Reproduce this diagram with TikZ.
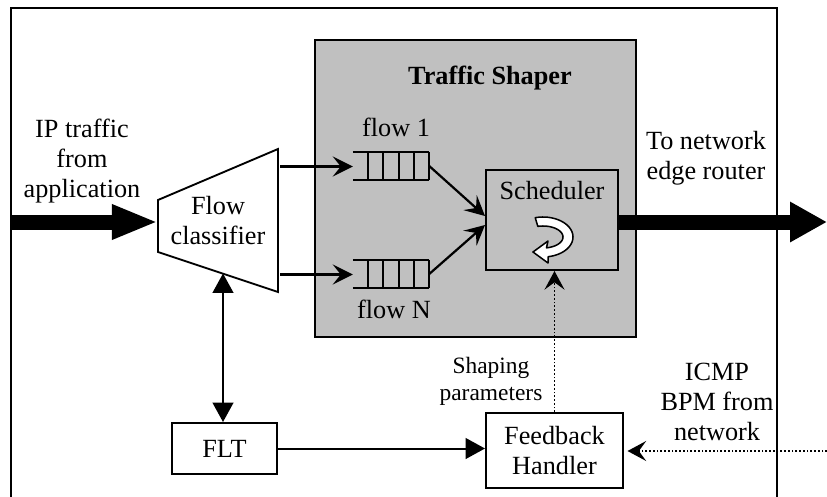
\documentclass[tikz,border=0pt]{standalone}
\usepackage{fontspec}
\setmainfont{Liberation Serif}
\usetikzlibrary{arrows.meta,calc}

\tikzset{
  unitbox/.style={draw, line width=1.7pt, inner sep=0pt},
  lbl/.style={align=center, inner sep=0pt, font=\fontsize{22.4pt}{25.6pt}\selectfont},
  smalllbl/.style={align=center, inner sep=0pt, font=\fontsize{20pt}{23pt}\selectfont},
  thin arrow/.style={line width=1.9pt, -{Stealth[length=0.6cm,width=0.6cm,inset=0.24cm]}},
  tri arrow/.style={line width=1.7pt, -{Triangle[length=0.58cm,width=0.62cm]}},
  dots/.style={line width=1.4pt, dash pattern=on 1.4pt off 1.8pt,
    -{Stealth[length=0.56cm,width=0.6cm,inset=0.22cm]}},
  fat arrow/.style={line width=0.45cm},
  qline/.style={line width=1.7pt},
}

\begin{document}
\begin{tikzpicture}[x=0.03cm, y=-0.03cm]
\useasboundingbox (0,0) rectangle (827,497);

% outer frame (open at the bottom)
\draw[line width=1.7pt] (11,497) -- (11,8) -- (777,8) -- (777,497);

% traffic shaper block
\node[unitbox, fill={rgb,255:red,192;green,192;blue,192}, minimum width=9.63cm, minimum height=8.91cm] (ts) at (475.5,188.5) {};
\node[lbl, font=\fontsize{22.4pt}{25.6pt}\selectfont\bfseries] (tstitle) at (490,78) {Traffic Shaper};

% scheduler
\node[unitbox, fill={rgb,255:red,192;green,192;blue,192}, minimum width=3.96cm, minimum height=3cm] (sch) at (552,220) {};
\node[lbl] (schlbl) at (552,191) {Scheduler};

% round-robin symbol
\filldraw[fill=white, line width=1.3pt, line join=round]
  plot[domain=-105:80, samples=40] ({543+30*cos(\x)},{237+20*sin(\x)})
  -- (548,263) -- (533,252) -- (548,241)
  -- plot[domain=80:-105, samples=40] ({543+20*cos(\x)},{237+11*sin(\x)}) -- cycle;

% flow classifier
\coordinate (c1) at (158,200);
\coordinate (c2) at (278,149);
\coordinate (c3) at (278,292);
\coordinate (c4) at (158,252);
\filldraw[fill=white, line width=1.6pt] (c1) -- (c2) -- (c3) -- (c4) -- cycle;
\node[lbl] (cls) at (218,221) {Flow\\classifier};
\coordinate (clsbot) at (223,273.5);

% queues
\node[minimum width=2.28cm, minimum height=0.84cm, inner sep=0pt] (q1) at (391,166) {};
\node[minimum width=2.28cm, minimum height=0.84cm, inner sep=0pt] (qN) at (391,274) {};
\foreach \q in {q1,qN}{
  \draw[qline] (\q.north west) -- (\q.north east);
  \draw[qline] (\q.south west) -- (\q.south east);
  \foreach \k in {1,...,5}
    \draw[qline] ($(\q.north west)!\k/5!(\q.north east)$) -- ($(\q.south west)!\k/5!(\q.south east)$);
}
\node[lbl] (f1) at (396,127) {flow 1};
\node[lbl] (fN) at (394,309) {flow N};

% classifier to queues
\draw[thin arrow] ($(q1.west -| c2)+(2,0.5)$) -- ($(q1.west)+(0,0.5)$);
\draw[thin arrow] ($(qN.west -| c2)+(2,0.5)$) -- ($(qN.west)+(0,0.5)$);

% queues to scheduler
\draw[thin arrow] (q1.east) -- ($(sch.west)+(0,-4)$);
\draw[thin arrow] (qN.east) -- ($(sch.west)+(0,5)$);

% FLT and feedback handler
\node[unitbox, minimum width=3.15cm, minimum height=1.53cm] (flt) at (224.5,448.5) {};
\node[lbl] at (flt.center) {FLT};
\node[unitbox, minimum width=4.11cm, minimum height=2.25cm] (fb) at (554.5,450.5) {};
\node[lbl] at (fb.center) {Feedback\\Handler};

\draw[line width=1.7pt, {Triangle[length=0.58cm,width=0.62cm]}-{Triangle[length=0.58cm,width=0.62cm]}]
  (clsbot) -- (clsbot |- flt.north);
\draw[tri arrow] (flt.east) -- (flt.east -| fb.west);

% feedback paths
\draw[dots] (fb.north) -- (fb.north |- sch.south);
\node[smalllbl] (shp) at (491,381) {Shaping\\parameters};
\coordinate (netin) at (827,451);
\draw[dots, shorten >=3pt] (netin) -- (netin -| fb.east);
\node[lbl] (icmp) at (717,402) {ICMP\\BPM from\\network};

% main traffic path
\coordinate (appin) at (11,222);
\coordinate (netout) at (827,222);
\draw[fat arrow, -{Triangle[length=1.38cm,width=0.96cm]}] (appin) -- (appin -| c1);
\draw[fat arrow, -{Triangle[length=1.11cm,width=1.14cm]}] (appin -| sch.east) -- (netout);
\node[lbl] (iplbl) at (82,161) {IP traffic\\from\\application};
\node[lbl] (outlbl) at (706,158) {To network\\edge router};
\end{tikzpicture}
\end{document}
